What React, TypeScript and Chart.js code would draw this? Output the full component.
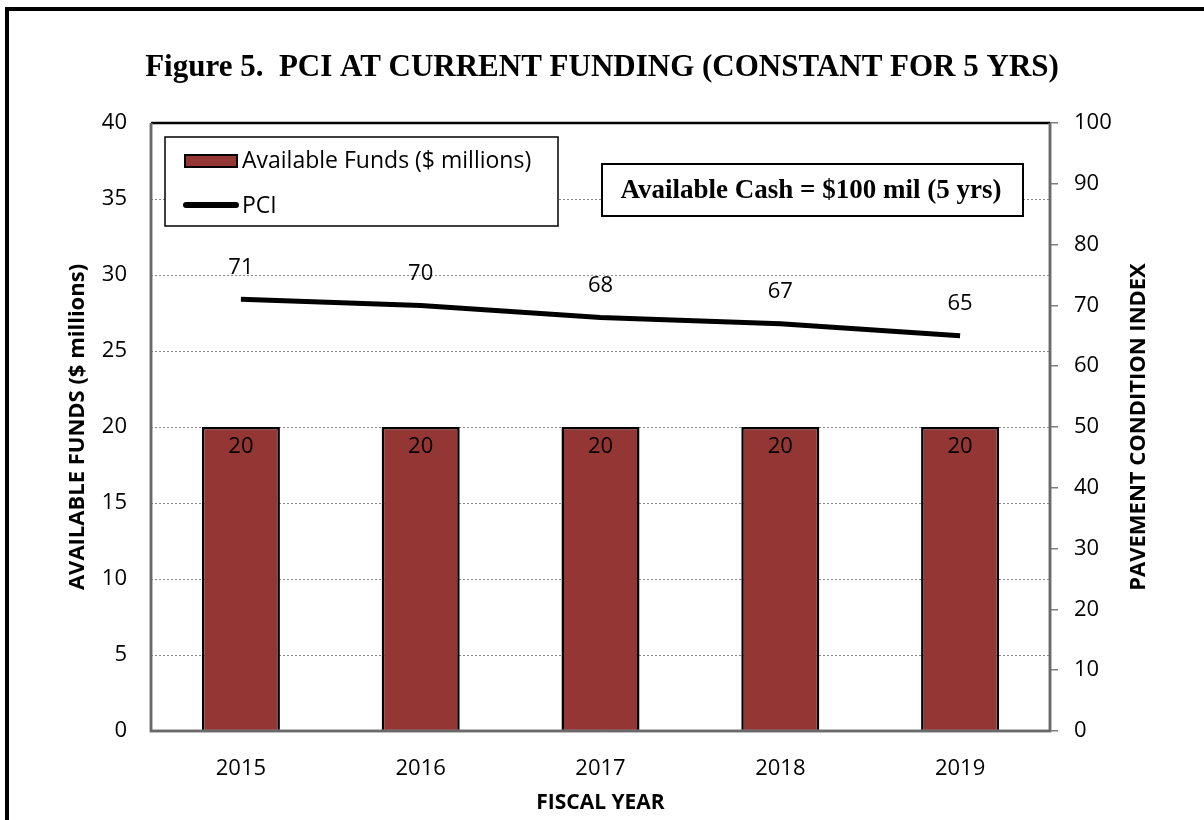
import React, { useEffect, useRef } from "react";
import { Chart, registerables } from "chart.js";

Chart.register(...registerables);

const categories = ["2015", "2016", "2017", "2018", "2019"];
const fundsValues = [20, 20, 20, 20, 20];
const pciValues = [71, 70, 68, 67, 65];
const fundsLabel = "Available Funds ($ millions)";
const pciLabel = "PCI";
const titleText = "Figure 5.  PCI AT CURRENT FUNDING (CONSTANT FOR 5 YRS)";
const noteText = "Available Cash = $100 mil (5 yrs)";
const leftTitle = "AVAILABLE FUNDS ($ millions)";
const rightTitle = "PAVEMENT CONDITION INDEX";
const xTitle = "FISCAL YEAR";

const SANS = "'Open Sans', 'Noto Sans', sans-serif";
const SERIF = "'Liberation Serif', 'DejaVu Serif', serif";
const BAR_COLOR = "#943634";

const decorPlugin = {
  id: "decor",
  afterDraw(chart: any) {
    const ctx = chart.ctx as CanvasRenderingContext2D;
    const a = chart.chartArea;
    ctx.save();
    // outer frame
    ctx.strokeStyle = "#000";
    ctx.lineWidth = 4;
    ctx.strokeRect(7, 9, 1300, 900);

    // title
    ctx.fillStyle = "#000";
    ctx.font = `bold 31px ${SERIF}`;
    ctx.textAlign = "center";
    ctx.textBaseline = "middle";
    ctx.fillText(titleText, 602, 68);

    // plot area border
    ctx.strokeStyle = "#000";
    ctx.lineWidth = 2.5;
    ctx.beginPath();
    ctx.moveTo(a.left, a.top);
    ctx.lineTo(a.right, a.top);
    ctx.stroke();
    ctx.strokeStyle = "#7f7f7f";
    ctx.lineWidth = 3;
    ctx.beginPath();
    ctx.moveTo(a.left, a.top);
    ctx.lineTo(a.left, a.bottom);
    ctx.lineTo(a.right, a.bottom);
    ctx.lineTo(a.right, a.top);
    ctx.stroke();
    ctx.strokeStyle = "#555";
    ctx.lineWidth = 1;
    ctx.beginPath();
    ctx.moveTo(a.left, a.top);
    ctx.lineTo(a.left, a.bottom);
    ctx.lineTo(a.right, a.bottom);
    ctx.lineTo(a.right, a.top);
    ctx.stroke();

    // axis titles
    ctx.fillStyle = "#000";
    ctx.font = `bold 22px ${SANS}`;
    ctx.textAlign = "center";
    ctx.textBaseline = "middle";
    ctx.save();
    ctx.translate(78, (a.top + a.bottom) / 2);
    ctx.rotate(-Math.PI / 2);
    ctx.fillText(leftTitle, 0, 0);
    ctx.restore();
    ctx.save();
    ctx.translate(1139, (a.top + a.bottom) / 2);
    ctx.rotate(-Math.PI / 2);
    ctx.fillText(rightTitle, 0, 0);
    ctx.restore();
    ctx.font = `bold 21px ${SANS}`;
    ctx.fillText(xTitle, (a.left + a.right) / 2, 803);

    // data labels
    ctx.font = `22px ${SANS}`;
    const barMeta = chart.getDatasetMeta(0);
    barMeta.data.forEach((el: any, i: number) => {
      ctx.fillText(String(fundsValues[i]), el.x, el.y + 20);
    });
    const lineMeta = chart.getDatasetMeta(1);
    lineMeta.data.forEach((el: any, i: number) => {
      ctx.fillText(String(pciValues[i]), el.x, el.y - 32);
    });

    // legend box
    ctx.fillStyle = "#fff";
    ctx.fillRect(165, 137, 393, 89);
    ctx.strokeStyle = "#000";
    ctx.lineWidth = 1.5;
    ctx.strokeRect(165, 137, 393, 89);
    ctx.fillStyle = BAR_COLOR;
    ctx.fillRect(185, 155, 52, 12);
    ctx.strokeStyle = "#000";
    ctx.lineWidth = 2;
    ctx.strokeRect(185, 155, 52, 12);
    ctx.lineWidth = 6;
    ctx.lineCap = "round";
    ctx.beginPath();
    ctx.moveTo(186, 205);
    ctx.lineTo(236, 205);
    ctx.stroke();
    ctx.lineCap = "butt";
    ctx.fillStyle = "#000";
    ctx.font = `23px ${SANS}`;
    ctx.textAlign = "left";
    ctx.fillText(fundsLabel, 242, 161);
    ctx.fillText(pciLabel, 242, 206);

    // note box
    ctx.fillStyle = "#fff";
    ctx.fillRect(602, 164, 421, 52);
    ctx.strokeStyle = "#000";
    ctx.lineWidth = 2;
    ctx.strokeRect(602, 164, 421, 52);
    ctx.fillStyle = "#000";
    ctx.font = `bold 27px ${SERIF}`;
    ctx.textAlign = "center";
    ctx.fillText(noteText, 811, 191);

    ctx.restore();
  },
};

export default function App() {
  const ref = useRef<HTMLCanvasElement | null>(null);
  useEffect(() => {
    if (!ref.current) return;
    const chart = new Chart(ref.current, {
      type: "bar",
      data: {
        labels: categories,
        datasets: [
          {
            type: "bar",
            label: fundsLabel,
            data: fundsValues,
            backgroundColor: BAR_COLOR,
            borderColor: "#000",
            borderWidth: 2.5,
            categoryPercentage: 1,
            barPercentage: 0.434,
            yAxisID: "y",
            order: 1,
          },
          {
            type: "line",
            label: pciLabel,
            data: pciValues,
            borderColor: "#000",
            borderWidth: 5,
            pointRadius: 0,
            tension: 0,
            yAxisID: "y1",
            order: 0,
          } as any,
        ],
      },
      options: {
        responsive: false,
        animation: false,
        layout: { padding: { top: 123, left: 0, right: 0, bottom: 0 } },
        plugins: {
          legend: { display: false },
          tooltip: { enabled: false },
          title: { display: false },
        },
        scales: {
          x: {
            grid: { display: false, drawTicks: false },
            border: { display: false },
            ticks: { color: "#000", font: { family: SANS, size: 22 }, padding: 25 },
            afterFit: (s: any) => {
              s.height = 89;
            },
          },
          y: {
            position: "left",
            min: 0,
            max: 40,
            ticks: { stepSize: 5, color: "#000", font: { family: SANS, size: 22 }, padding: 24 },
            grid: { color: "#8a8a8a", lineWidth: 1, drawTicks: false },
            border: { display: false, dash: [2, 2] },
            afterFit: (s: any) => {
              s.width = 151;
            },
          },
          y1: {
            position: "right",
            min: 0,
            max: 100,
            ticks: { stepSize: 10, color: "#000", font: { family: SANS, size: 22 }, padding: 16 },
            grid: { drawOnChartArea: false, drawTicks: true, tickLength: 8, color: "#7f7f7f", lineWidth: 1.5 },
            border: { display: false },
            afterFit: (s: any) => {
              s.width = 154;
            },
          },
        },
      } as any,
      plugins: [decorPlugin],
    });
    return () => chart.destroy();
  }, []);
  return (
    <div style={{ position: "absolute", left: 0, top: 0, width: 1204, height: 820, background: "#fff" }}>
      <canvas ref={ref} width={1204} height={820} style={{ display: "block", width: 1204, height: 820 }} />
    </div>
  );
}
